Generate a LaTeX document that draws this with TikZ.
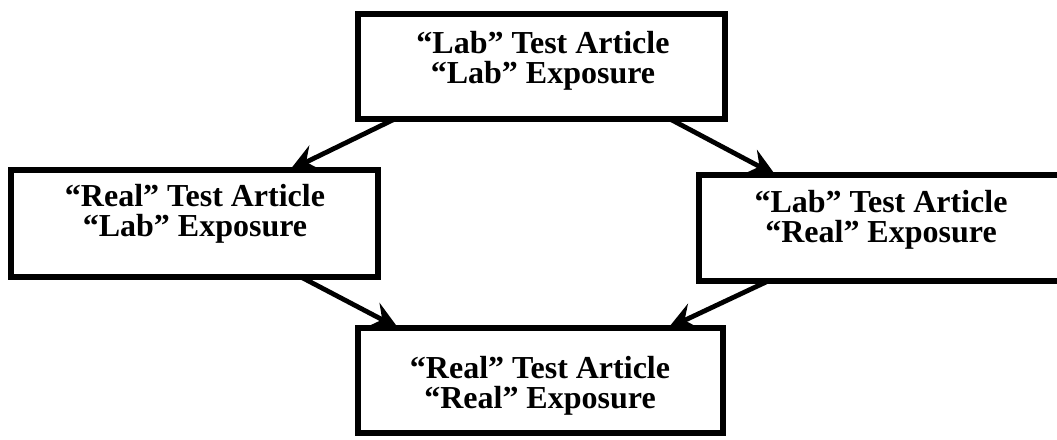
\documentclass[tikz,border=0pt]{standalone}
\usepackage{fontspec}
\setmainfont{Liberation Serif}
\usetikzlibrary{arrows.meta,calc}
\begin{document}
\begin{tikzpicture}[x=1pt,y=-1pt,
  box/.style={draw=black, line width=6pt, inner sep=0pt, outer sep=0pt},
  txt/.style={align=center, inner sep=0pt, font=\bfseries\fontsize{32}{30}\selectfont},
  arr/.style={line width=4.8pt, -{Stealth[length=28pt,width=27pt,inset=10pt]}}]
\useasboundingbox (0,0) rectangle (1057,439);
% boxes
\node[box, minimum width=367pt, minimum height=105pt] (topbox) at (541.5,66.5) {};
\node[box, minimum width=367pt, minimum height=107pt] (leftbox) at (194.5,223.5) {};
\node[box, minimum width=364pt, minimum height=106pt] (rightbox) at (881,228) {};
\node[box, minimum width=365pt, minimum height=105pt] (botbox) at (540.5,380.5) {};
% texts
\node[txt] (toptxt) at (543,61) {“Lab” Test Article\\“Lab” Exposure};
\node[txt] (lefttxt) at (195,214) {“Real” Test Article\\“Lab” Exposure};
\node[txt] (righttxt) at (881,220) {“Lab” Test Article\\“Real” Exposure};
\node[txt] (bottxt) at (540,386) {“Real” Test Article\\“Real” Exposure};
% arrows
\draw[arr] ($(topbox.south west)!0.10!(topbox.south east)$) -- ($(leftbox.north west)!0.76!(leftbox.north east)$);
\draw[arr] ($(topbox.south west)!0.85!(topbox.south east)$) -- ($(rightbox.north west)!0.21!(rightbox.north east)$);
\draw[arr] ($(leftbox.south west)!0.79!(leftbox.south east)$) -- ($(botbox.north west)!0.11!(botbox.north east)$);
\draw[arr] ($(rightbox.south west)!0.19!(rightbox.south east)$) -- ($(botbox.north west)!0.85!(botbox.north east)$);
\end{tikzpicture}
\end{document}
